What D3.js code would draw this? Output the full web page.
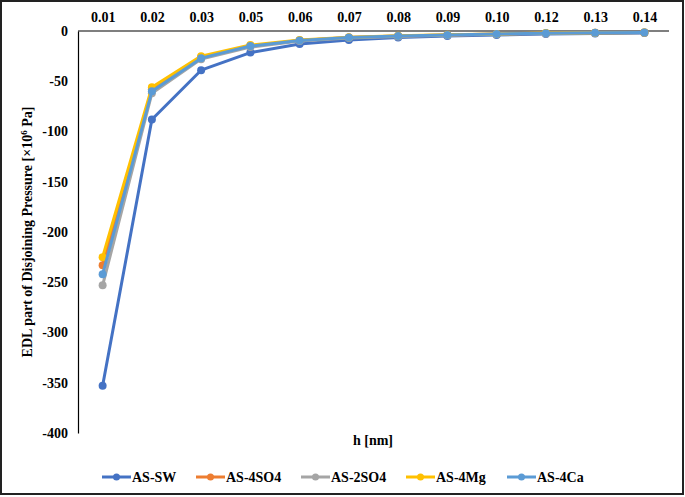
<!DOCTYPE html>
<html>
<head>
<meta charset="utf-8">
<script src="https://cdn.jsdelivr.net/npm/d3@7"></script>
<style>
  body { margin: 0; background: #fff; }
  svg text { font-family: 'Times New Roman', 'Liberation Serif', Tinos, 'DejaVu Serif', serif !important; font-weight: 700; fill: #000; }
</style>
</head>
<body>
<script>
const categories = ['0.01', '0.02', '0.03', '0.05', '0.06', '0.07', '0.08', '0.09', '0.10', '0.12', '0.13', '0.14']
const yTicks = [0, -50, -100, -150, -200, -250, -300, -350, -400]

const seriesNames = ['AS-SW', 'AS-4SO4', 'AS-2SO4', 'AS-4Mg', 'AS-4Ca']
const sw   = [-353, -88, -39, -21.5, -13, -9, -6.5, -5, -4, -3, -2.5, -2]
const so4  = [-233, -58, -26, -15, -9.5, -6.5, -5, -4, -3, -2.2, -1.8, -1.5]
const so42 = [-253, -62, -28, -16, -10, -7, -5.5, -4.2, -3.2, -2.4, -2, -1.6]
const mg   = [-225, -56, -25, -14, -9, -6.3, -4.8, -3.8, -2.9, -2.1, -1.7, -1.4]
const ca   = [-242, -60, -27, -15, -9.5, -6.5, -5, -4, -3, -2.2, -1.8, -1.5]
const colors = ['#4472C4', '#ED7D31', '#A5A5A5', '#FFC000', '#5B9BD5']

const W = 685, H = 497
const margin = {top: 31, right: 16, bottom: 64, left: 78}
const serif = "'Times New Roman', 'Liberation Serif', serif"

const svg = d3.select('body').append('svg')
  .attr('width', W)
  .attr('height', H)
  .style('font-family', serif)

// outer frame
svg.append('rect')
  .attr('x', 1).attr('y', 1)
  .attr('width', W - 3).attr('height', H - 4)
  .attr('fill', 'none')
  .attr('stroke', '#222')
  .attr('stroke-width', 2)

const x = d3.scalePoint()
  .domain(categories)
  .range([margin.left, W - margin.right])
  .padding(0.5)

const y = d3.scaleLinear()
  .domain([-400, 0])
  .range([433, margin.top])

// y axis, plain hyphen for minus like excel
const yAxis = svg.append('g')
  .attr('transform', `translate(${margin.left},0)`)
  .call(d3.axisLeft(y).tickValues(yTicks).tickFormat(d => String(d)).tickSize(0).tickPadding(10))
  .attr('font-family', serif).attr('font-size', 14)
yAxis.select('.domain').attr('stroke', '#000').attr('stroke-width', 1.2)

// category axis on top at y=0
const xAxis = svg.append('g')
  .attr('transform', `translate(0,${y(0)})`)
  .call(d3.axisTop(x).tickSize(0).tickPadding(9))
  .attr('font-family', serif).attr('font-size', 14)
xAxis.select('.domain').attr('stroke', '#000').attr('stroke-width', 1.2)
  .attr('d', `M${margin.left},0H${W - margin.right}`)

const allSeries = [sw, so4, so42, mg, ca]
const line = d3.line()
  .x((d, i) => x(categories[i]))
  .y(d => y(d))

allSeries.forEach((vals, k) => {
  svg.append('path')
    .datum(vals)
    .attr('d', line)
    .attr('fill', 'none')
    .attr('stroke', colors[k])
    .attr('stroke-width', 3)
    .attr('stroke-linejoin', 'round')
  svg.selectAll('.pt' + k)
    .data(vals)
    .join('circle')
    .attr('cx', (d, i) => x(categories[i]))
    .attr('cy', d => y(d))
    .attr('r', 4)
    .attr('fill', colors[k])
})

// axis titles
svg.append('text')
  .attr('x', 373).attr('y', 445)
  .attr('text-anchor', 'middle')
  .attr('font-size', 14)
  .text('h [nm]')

const yt = svg.append('text')
  .attr('transform', `translate(32,232) rotate(-90)`)
  .attr('text-anchor', 'middle')
  .attr('font-size', 14)
yt.append('tspan').text('EDL part of Disjoining Pressure [×10')
yt.append('tspan').attr('font-size', 9).attr('dy', -5).text('6')
yt.append('tspan').attr('dy', 5).text(' Pa]')

// legend
const legendX = [102, 196, 301, 406, 507]
seriesNames.forEach((name, k) => {
  const g = svg.append('g').attr('transform', `translate(${legendX[k]},477)`)
  g.append('line').attr('x1', 0).attr('x2', 29)
    .attr('stroke', colors[k]).attr('stroke-width', 3)
  g.append('circle').attr('cx', 14.5).attr('r', 3.5).attr('fill', colors[k])
  g.append('text').attr('x', 30).attr('y', 5).attr('font-size', 14).text(name)
})
</script>
</body>
</html>
